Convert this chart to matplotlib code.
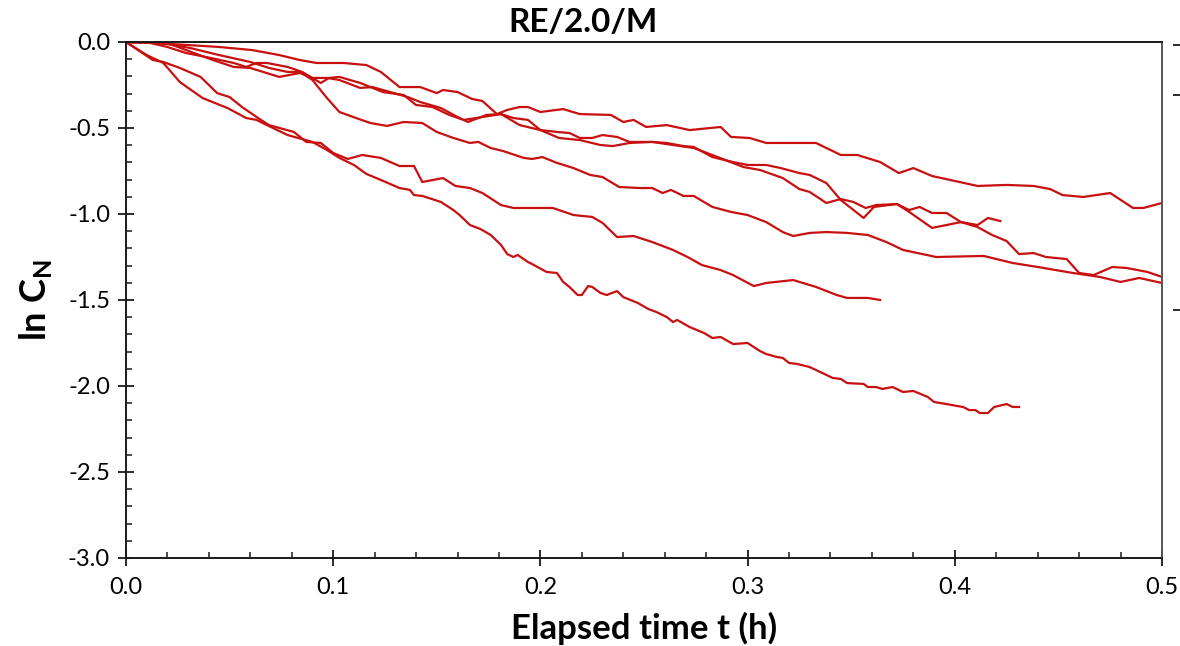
import numpy as np
import matplotlib
matplotlib.use("Agg")
import matplotlib.pyplot as plt
from matplotlib.ticker import MultipleLocator, FormatStrFormatter

plt.rcParams['font.family'] = ['Lato', 'DejaVu Sans']
plt.rcParams['mathtext.fontset'] = 'custom'
plt.rcParams['mathtext.rm'] = 'Lato'
plt.rcParams['mathtext.bf'] = 'Lato:bold'

# six runs, elapsed time (h) and ln C_N
t_a = [0, .013, .029, .045, .061, .074, .084, .092, .105, .116, .123, .132, .142, .150, .153, .160,
       .167, .172, .179, .184, .190, .194, .200, .211, .219, .234, .240, .245, .251, .261, .272, .287,
       .292, .301, .309, .333, .345, .353, .364, .373, .380, .389, .411, .425, .438, .446, .452, .462,
       .475, .486, .491, .500]
y_a = [0, -.006, -.017, -.029, -.047, -.076, -.105, -.122, -.122, -.134, -.174, -.262, -.262, -.297,
       -.279, -.291, -.331, -.343, -.419, -.395, -.378, -.378, -.407, -.390, -.419, -.424, -.465,
       -.453, -.494, -.483, -.512, -.494, -.552, -.558, -.587, -.587, -.657, -.657, -.698, -.762,
       -.733, -.779, -.837, -.831, -.837, -.855, -.890, -.901, -.878, -.965, -.965, -.936]

t_b = [0, .020, .029, .042, .052, .060, .074, .084, .090, .097, .103, .113, .119, .136, .142, .152,
       .160, .165, .174, .181, .190, .200, .209, .219, .229, .235, .243, .254, .264, .274, .283, .298,
       .306, .317, .325, .330, .338, .345, .351, .357, .362, .372, .378, .383, .389, .396, .403, .411,
       .418, .425, .431, .438, .444, .454, .460, .467, .476, .483, .493, .500]
y_b = [0, -.006, -.047, -.105, -.145, -.151, -.203, -.180, -.209, -.209, -.221, -.267, -.262, -.320,
       -.349, -.384, -.436, -.465, -.424, -.419, -.483, -.512, -.558, -.570, -.599, -.605, -.587,
       -.581, -.599, -.616, -.657, -.727, -.744, -.791, -.855, -.872, -.936, -.913, -.930, -.965,
       -.948, -.942, -.977, -.959, -.994, -.994, -1.047, -1.076, -1.122, -1.157, -1.233, -1.227,
       -1.250, -1.262, -1.343, -1.355, -1.308, -1.314, -1.337, -1.366]

t_c = [0, .009, .020, .031, .045, .060, .069, .078, .084, .090, .097, .103, .111, .118, .126, .134,
       .143, .150, .158, .166, .170, .176, .182, .192, .196, .201, .208, .216, .224, .230, .238, .248,
       .254, .259, .263, .269, .274, .283, .292, .300, .309, .317, .322, .330, .338, .348, .358, .367,
       .375, .391, .414, .428, .440, .457, .470, .480, .489, .500]
y_c = [0, 0, -.012, -.035, -.076, -.116, -.151, -.174, -.174, -.221, -.326, -.407, -.442, -.471,
       -.488, -.465, -.471, -.523, -.558, -.587, -.581, -.616, -.634, -.674, -.680, -.669, -.703,
       -.733, -.773, -.785, -.843, -.849, -.849, -.878, -.860, -.895, -.895, -.959, -.988, -1.006,
       -1.047, -1.105, -1.128, -1.110, -1.105, -1.110, -1.122, -1.163, -1.209, -1.250, -1.244,
       -1.285, -1.308, -1.343, -1.366, -1.395, -1.372, -1.401]

t_d = [0, .012, .020, .029, .041, .052, .058, .063, .068, .078, .085, .094, .098, .103, .113, .124,
       .134, .140, .148, .156, .163, .169, .181, .187, .194, .200, .208, .214, .219, .225, .230, .237,
       .243, .254, .261, .269, .274, .283, .293, .300, .309, .316, .325, .330, .338, .345, .356, .361,
       .372, .378, .389, .396, .403, .411, .416, .422]
y_d = [0, -.006, -.029, -.064, -.093, -.122, -.145, -.122, -.122, -.145, -.174, -.238, -.209, -.203,
       -.238, -.291, -.308, -.366, -.378, -.424, -.453, -.442, -.419, -.442, -.453, -.512, -.523,
       -.529, -.558, -.558, -.541, -.552, -.581, -.581, -.587, -.605, -.610, -.669, -.698, -.715,
       -.715, -.733, -.762, -.773, -.820, -.919, -1.023, -.959, -.942, -.988, -1.081, -1.064,
       -1.047, -1.064, -1.023, -1.041]

t_e = [0, .013, .018, .026, .036, .044, .050, .056, .063, .069, .081, .087, .094, .100, .107, .114,
       .123, .132, .139, .143, .153, .159, .166, .172, .181, .187, .196, .206, .216, .225, .230, .237,
       .245, .254, .264, .271, .278, .287, .293, .303, .309, .322, .333, .343, .348, .358, .364]
y_e = [0, -.105, -.116, -.151, -.203, -.297, -.320, -.378, -.436, -.483, -.523, -.581, -.587, -.645,
       -.680, -.657, -.674, -.721, -.721, -.814, -.791, -.837, -.849, -.878, -.948, -.965, -.965,
       -.965, -1.006, -1.017, -1.052, -1.134, -1.128, -1.163, -1.209, -1.250, -1.297, -1.326,
       -1.355, -1.419, -1.401, -1.384, -1.424, -1.471, -1.488, -1.488, -1.500]

t_f = [0, .010, .018, .021, .026, .037, .049, .058, .063, .068, .078, .090, .097, .103, .110, .116,
       .123, .132, .137, .139, .143, .152, .158, .161, .166, .171, .176, .181, .184, .187, .189, .194,
       .196, .203, .208, .211, .214, .218, .220, .223, .225, .229, .232, .237, .240, .247, .252, .256,
       .261, .264, .266, .272, .279, .283, .287, .293, .300, .306, .309, .314, .317, .320, .324, .330,
       .336, .341, .345, .348, .356, .358, .362, .365, .370, .375, .380, .387, .390, .396, .401, .404,
       .407, .410, .412, .416, .419, .425, .428, .431]
y_f = [0, -.076, -.122, -.163, -.233, -.326, -.384, -.442, -.453, -.483, -.541, -.581, -.628, -.674,
       -.715, -.767, -.802, -.849, -.860, -.890, -.895, -.930, -.977, -1.006, -1.064, -1.087,
       -1.122, -1.180, -1.233, -1.250, -1.238, -1.279, -1.291, -1.337, -1.343, -1.395, -1.424,
       -1.471, -1.471, -1.419, -1.424, -1.459, -1.471, -1.448, -1.483, -1.517, -1.552, -1.570,
       -1.599, -1.628, -1.616, -1.657, -1.692, -1.721, -1.715, -1.756, -1.750, -1.797, -1.814,
       -1.831, -1.837, -1.866, -1.872, -1.890, -1.924, -1.953, -1.959, -1.983, -1.988, -2.006,
       -2.006, -2.017, -2.006, -2.035, -2.029, -2.064, -2.093, -2.105, -2.116, -2.122, -2.140,
       -2.140, -2.157, -2.157, -2.122, -2.105, -2.122, -2.122]

runs = [(t_a, y_a), (t_b, y_b), (t_c, y_c), (t_d, y_d), (t_e, y_e), (t_f, y_f)]

# stray tick marks of the hidden secondary axis on the right
extra_ticks = [-0.015, -0.31, -1.56]

line_color = '#C81010'
axis_color = '#1a1a1a'

fig = plt.figure(figsize=(11.8, 6.46), dpi=100)
ax = fig.add_axes([126 / 1180, 1 - 558 / 646, (1162 - 126) / 1180, (558 - 42) / 646])

for t, y in runs:
    ax.plot(t, y, color=line_color, lw=1.6, solid_joinstyle='round')

ax.set_xlim(0, 0.5)
ax.set_ylim(-3, 0)
ax.xaxis.set_major_locator(MultipleLocator(0.1))
ax.xaxis.set_minor_locator(MultipleLocator(0.02))
ax.yaxis.set_major_locator(MultipleLocator(0.5))
ax.yaxis.set_minor_locator(MultipleLocator(0.1))
ax.xaxis.set_major_formatter(FormatStrFormatter('%.1f'))
ax.yaxis.set_major_formatter(FormatStrFormatter('%.1f'))

ax.tick_params(which='major', direction='inout', length=11, width=1.3, color=axis_color,
               labelsize=17)
ax.tick_params(axis='x', which='major', pad=8)
ax.tick_params(axis='y', which='major', pad=6)
ax.tick_params(which='minor', direction='in', length=4.5, width=1.1, color=axis_color)
ax.tick_params(axis='y', which='both', right=False)
ax.tick_params(axis='x', which='both', top=False)
for s in ax.spines.values():
    s.set_color(axis_color)
    s.set_linewidth(1.4)
ax.spines['right'].set_color('#555555')

ax.set_xlabel('Elapsed time t (h)', fontsize=25, fontweight='bold', labelpad=10)
ax.set_ylabel(r'ln C$_\mathbf{N}$', fontsize=26, fontweight='bold', labelpad=10)

ax2 = ax.twinx()
ax2.set_ylim(-3, 0)
ax2.set_yticks(extra_ticks)
ax2.set_yticklabels([])
ax2.spines['right'].set_position(('outward', 8))
for s in ax2.spines.values():
    s.set_visible(False)
ax2.tick_params(axis='y', direction='out', length=6, width=1.3, color=axis_color)

fig.text(0.494, 1 - 22 / 646, 'RE/2.0/M', ha='center', va='center', fontsize=24,
         fontweight='bold')

fig.savefig('out.png', dpi=100)
